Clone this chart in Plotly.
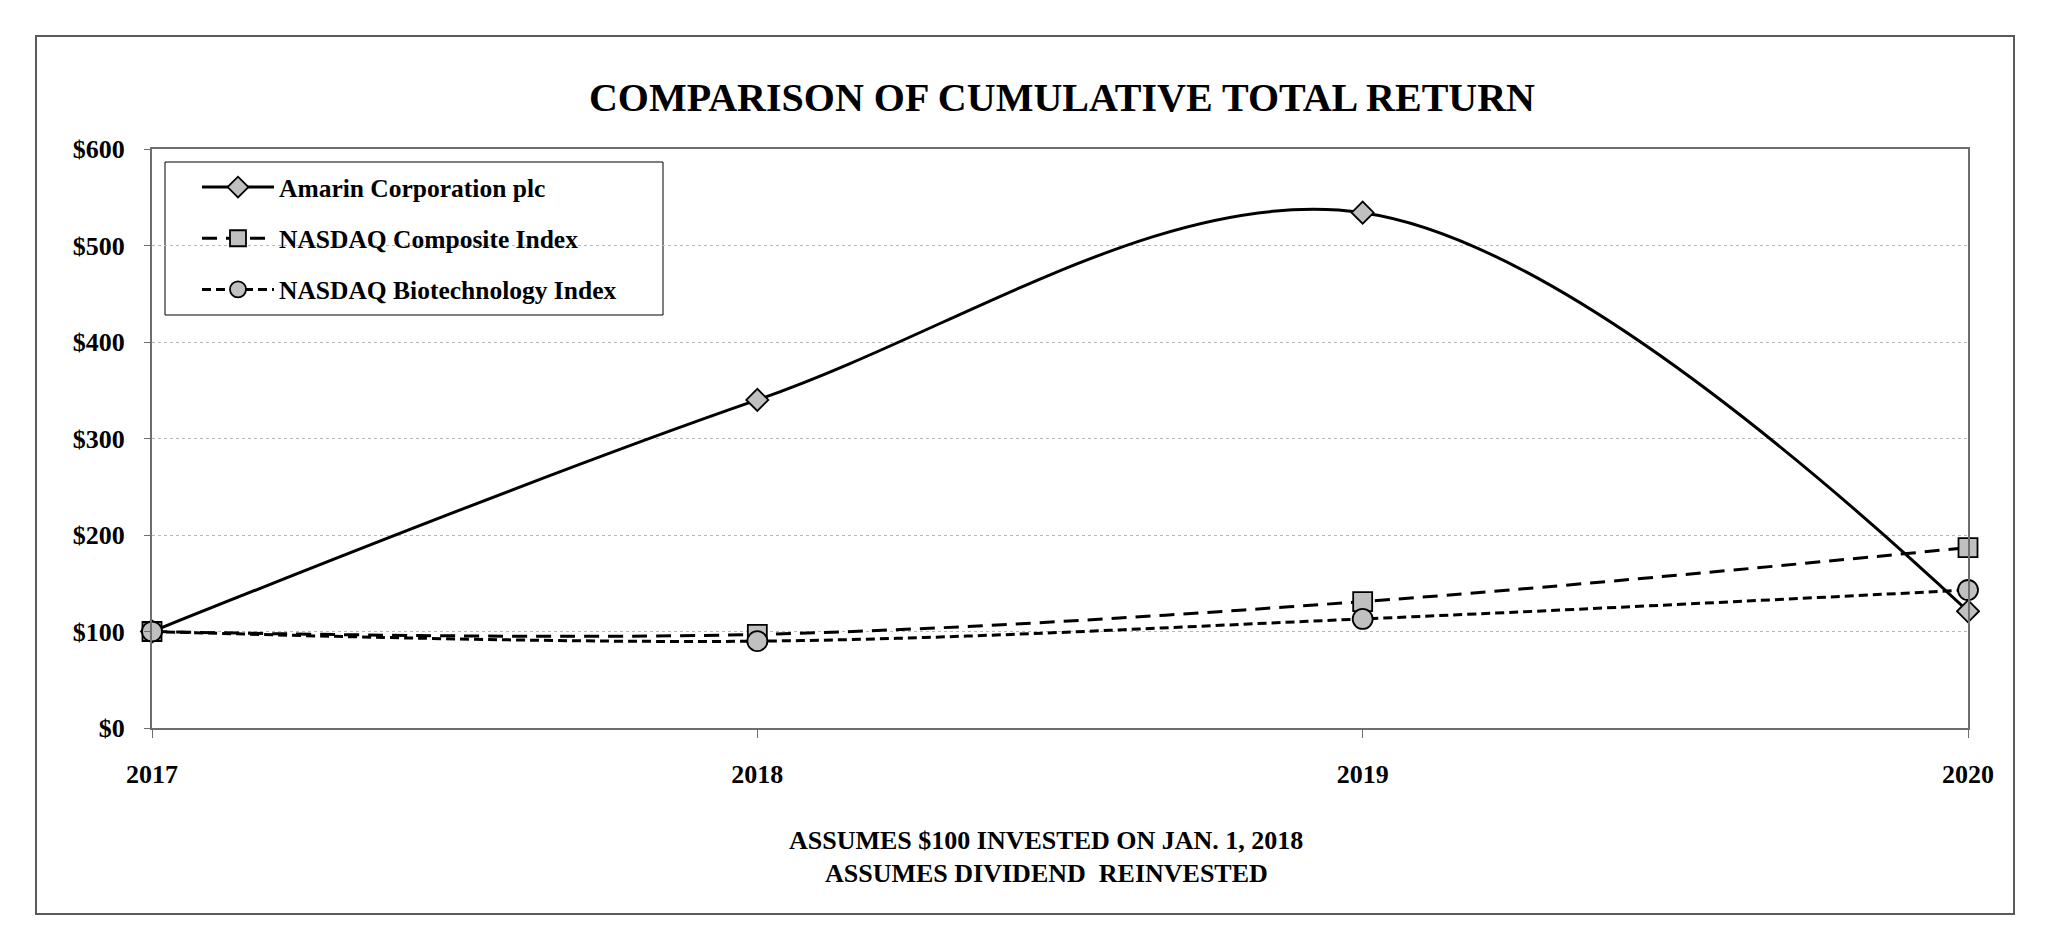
import plotly.graph_objects as go

# values
years = [2017, 2018, 2019, 2020]
amarin = [100, 340, 534, 121]
nasdaq_comp = [100, 97, 131, 187]
nasdaq_bio = [100, 90, 113, 143]

series_names = ["Amarin Corporation plc", "NASDAQ Composite Index", "NASDAQ Biotechnology Index"]
y_ticks = [0, 100, 200, 300, 400, 500, 600]
footer_lines = ["ASSUMES $100 INVESTED ON JAN. 1, 2018", "ASSUMES DIVIDEND  REINVESTED"]

FONT = "Liberation Serif"
OFF = 8  # the page body keeps an 8px margin round the figure
W, H = 2057 - 2 * OFF, 951 - 2 * OFF
L, T = 152 - OFF, 149 - OFF
R, B = W - (1968 - OFF), H - (728 - OFF)
pw, ph = W - L - R, H - T - B


# page pixel -> paper fraction
def px2x(p):
    return (p - OFF - L) / pw


def px2y(p):
    return (H - B - (p - OFF)) / ph


fig = go.Figure()

styles = [
    dict(symbol="diamond", size=17, dash="solid"),
    dict(symbol="square", size=19, dash="15px,9px"),
    dict(symbol="circle", size=20, dash="9px,5px"),
]
for i, (name, vals) in enumerate(zip(series_names, [amarin, nasdaq_comp, nasdaq_bio])):
    st = styles[i]
    fig.add_trace(go.Scatter(
        x=years, y=vals, name=name, mode="lines+markers",
        legendgroup="g%d" % i,
        line=dict(color="black", width=3, dash=st["dash"], shape="spline", smoothing=1.0),
        marker=dict(symbol=st["symbol"], size=st["size"], color="#c0c0c0",
                    line=dict(color="black", width=1.8)),
        cliponaxis=False,
    ))

fig.update_layout(
    width=W, height=H,
    margin=dict(l=L, r=R, t=T, b=B),
    paper_bgcolor="white", plot_bgcolor="white",
    font=dict(family=FONT, color="black"),
    title=dict(text="COMPARISON OF CUMULATIVE TOTAL RETURN",
               font=dict(family=FONT, size=40, color="black", weight="bold"),
               x=px2x(1062), xref="paper", xanchor="center",
               y=1 - (97 - OFF) / H, yref="container", yanchor="middle"),
    legend=dict(x=px2x(197), y=px2y(164), xanchor="left", yanchor="top",
                bgcolor="rgba(0,0,0,0)", borderwidth=0,
                font=dict(family=FONT, size=25.5, color="black", weight="bold"),
                tracegroupgap=15, itemwidth=72),
    showlegend=True,
)

fig.update_xaxes(
    range=[2017, 2020], tickvals=years, ticktext=[str(y) for y in years],
    showgrid=False, zeroline=False,
    showline=True, linecolor="#6e6e6e", linewidth=2, mirror=True,
    ticks="outside", ticklen=8, tickcolor="#6e6e6e", tickwidth=1,
    tickfont=dict(family=FONT, size=26, color="black", weight="bold"),
    ticklabelstandoff=14,
)
fig.update_yaxes(
    range=[0, 600], tickvals=y_ticks, ticktext=["$%d" % v for v in y_ticks],
    showgrid=True, gridcolor="#b8b8b8", griddash="dot", gridwidth=1,
    zeroline=False,
    showline=True, linecolor="#6e6e6e", linewidth=2, mirror=True,
    ticks="outside", ticklen=6, tickcolor="#6e6e6e", tickwidth=1,
    tickfont=dict(family=FONT, size=26, color="black", weight="bold"),
    ticklabelstandoff=14,
)

# legend box: white, above the grid, below the lines
fig.add_shape(type="rect", xref="paper", yref="paper",
              x0=px2x(165), x1=px2x(663), y0=px2y(315), y1=px2y(162),
              line=dict(color="black", width=1), fillcolor="white", layer="between")

# footer notes
for txt, ypx in zip(footer_lines, [840, 873]):
    fig.add_annotation(text=txt, x=px2x(1046), y=px2y(ypx),
                       xref="paper", yref="paper", showarrow=False,
                       xanchor="center", yanchor="middle",
                       font=dict(family=FONT, size=26, color="black", weight="bold"))

# outer frame around the whole chart
fig.add_shape(type="rect", xref="paper", yref="paper",
              x0=px2x(36), x1=px2x(2014), y0=px2y(914), y1=px2y(36),
              line=dict(color="#5a5a5a", width=2), fillcolor="rgba(0,0,0,0)", layer="below")

fig.write_html("out.html")
